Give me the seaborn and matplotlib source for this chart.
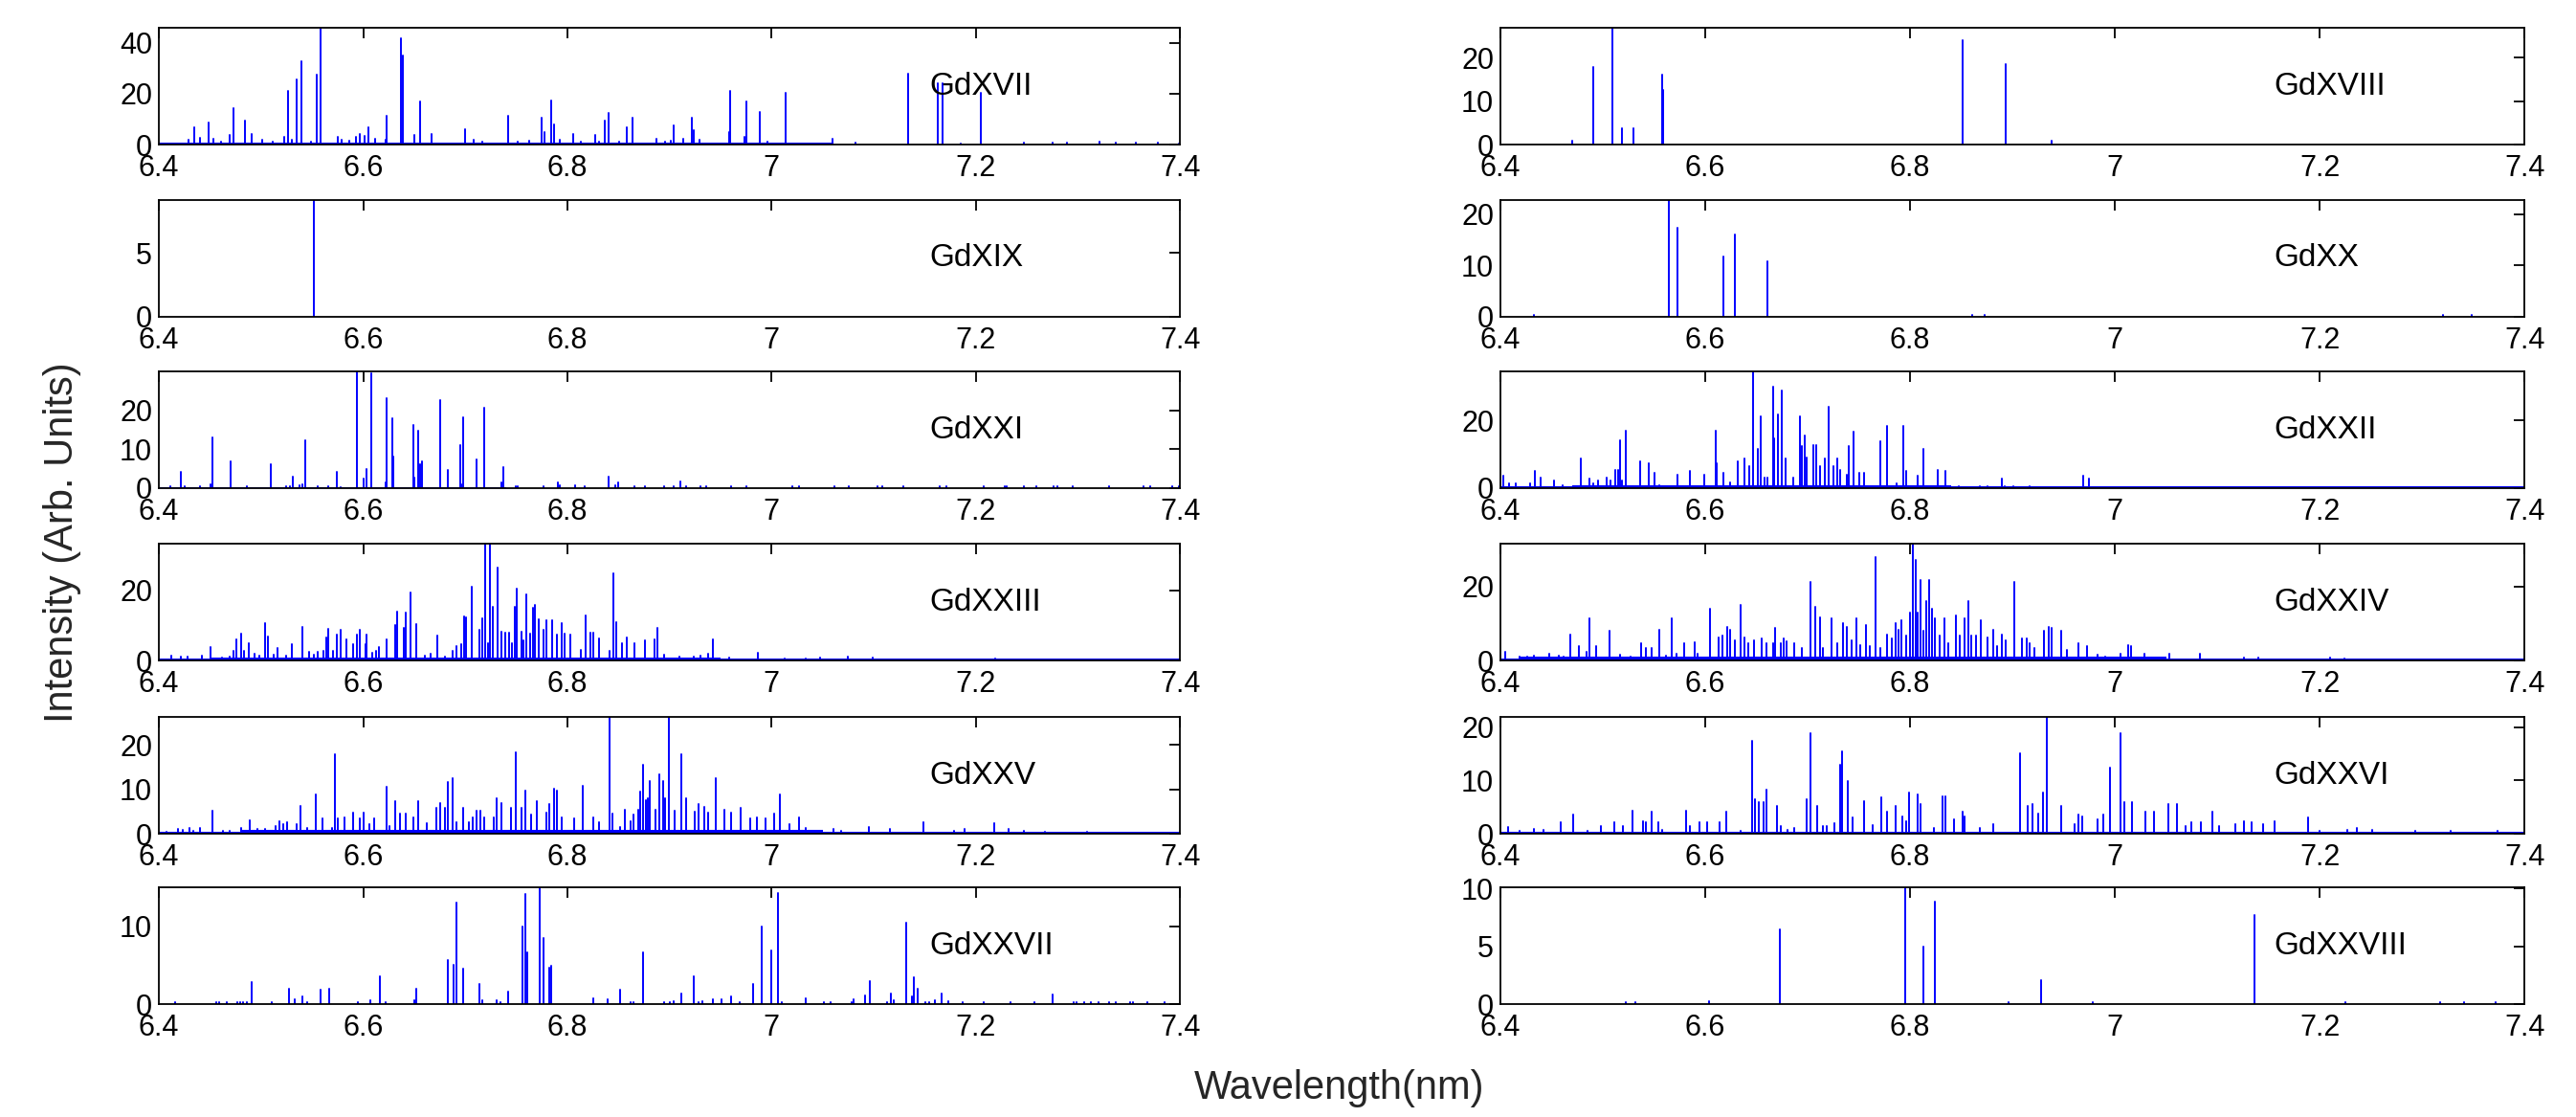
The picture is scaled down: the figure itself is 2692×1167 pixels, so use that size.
import numpy as np
import pandas as pd
import matplotlib
matplotlib.use("Agg")
import matplotlib.pyplot as plt
from matplotlib.ticker import FuncFormatter
import seaborn as sns

# ---- line lists: (wavelength nm, intensity arb. units) ----
gd17_lines = [(6.429,2.0),(6.435,6.8),(6.440,2.5),(6.449,8.8),(6.453,2.4),(6.461,1.0),(6.469,3.6),(6.473,14.3),
    (6.484,9.3),(6.491,4.3),(6.501,2.0),(6.511,1.0),(6.523,3.0),(6.526,21.0),(6.530,2.0),(6.535,25.5),(6.540,33.0),
    (6.549,1.0),(6.555,27.4),(6.558,46.0),(6.575,3.0),(6.579,2.0),(6.586,1.5),(6.593,3.0),(6.597,4.0),(6.601,3.5),
    (6.605,6.8),(6.612,2.4),(6.622,2.0),(6.623,11.3),(6.637,41.8),(6.639,34.9),(6.650,3.6),(6.656,16.8),(6.667,4.3),
    (6.700,6.1),(6.708,2.0),(6.717,1.0),(6.742,11.3),(6.751,1.0),(6.763,1.5),(6.775,10.5),(6.778,4.9),(6.784,17.4),
    (6.787,8.0),(6.793,2.0),(6.806,4.3),(6.813,1.0),(6.827,3.6),(6.831,1.0),(6.837,9.3),(6.840,12.4),(6.851,1.0),
    (6.858,6.8),(6.864,10.5),(6.887,2.4),(6.896,1.0),(6.901,1.5),(6.904,7.4),(6.913,2.4),(6.922,10.5),(6.924,5.5),
    (6.929,1.8),(6.958,4.9),(6.959,21.0),(6.973,3.0),(6.975,16.8),(6.988,13.0),(6.996,1.0),(7.014,20.5),(7.060,2.4),
    (7.082,0.6),(7.134,28.0),(7.163,24.3),(7.167,24.3),(7.185,0.5),(7.205,20.5),(7.247,0.6),(7.275,0.6),(7.289,0.6),
    (7.321,1.2),(7.337,0.7),(7.357,0.6),(7.378,0.6),(7.399,0.5)]

gd18_lines = [(6.470,0.9),(6.491,17.8),(6.509,26.8),(6.519,3.7),(6.530,3.7),(6.5575,16.0),(6.559,12.6),
    (6.851,23.9),(6.893,18.5),(6.938,0.9)]

gd19_lines = [(6.552,9.14)]

gd20_lines = [(6.433,0.3),(6.5645,22.8),(6.573,17.3),(6.618,11.8),(6.629,16.1),(6.661,10.9),(6.861,0.4),
    (6.873,0.4),(7.320,0.4),(7.348,0.4)]

gd21_lines = [(6.411,0.5),(6.421,4.2),(6.425,0.4),(6.440,0.5),(6.4506,1.0),(6.4527,13.1),(6.4706,7.0),(6.4864,0.5),
    (6.5098,6.2),(6.5243,0.5),(6.5284,0.5),(6.5312,3.0),(6.538,0.7),(6.5408,1.0),(6.5436,12.3),(6.5553,0.6),
    (6.5656,0.6),(6.5738,4.2),(6.578,0.3),(6.5938,30.0),(6.6000,2.5),(6.6028,5.0),(6.6076,29.4),(6.6220,1.4),
    (6.6234,23.1),(6.6282,17.9),(6.6296,8.2),(6.6489,16.3),(6.6503,2.6),(6.6537,14.7),(6.6558,6.2),(6.6572,7.0),
    (6.6757,22.7),(6.6833,4.6),(6.6950,11.0),(6.6964,1.0),(6.6978,18.3),(6.7109,7.4),(6.7184,20.7),(6.7350,1.4),
    (6.7370,5.4),(6.749,0.5),(6.751,0.5),(6.7763,0.6),(6.7907,1.4),(6.7928,0.7),(6.8076,0.8),(6.8168,0.4),
    (6.8403,3.0),(6.8465,0.8),(6.8493,1.4),(6.8657,0.4),(6.8760,0.4),(6.8947,0.4),(6.9043,0.4),(6.9105,1.8),
    (6.9167,0.4),(6.9306,0.5),(6.9361,0.5),(6.9600,0.4),(6.9752,0.4),(7.0200,0.4),(7.0269,0.4),(7.0613,0.4),
    (7.0751,0.4),(7.1040,0.4),(7.1081,0.4),(7.1288,0.4),(7.1646,0.4),(7.1715,0.4),(7.2080,0.4),(7.228,0.4),
    (7.230,0.4),(7.247,0.4),(7.259,0.4),(7.276,0.4),(7.280,0.4),(7.295,0.4),(7.330,0.4),(7.364,0.4),(7.371,0.4),
    (7.392,0.4),(7.399,0.4)]

gd22_lines = [(6.4028,3.7),(6.4084,1.4),(6.4153,1.4),(6.4293,1.4),(6.4335,5.1),(6.4390,3.2),(6.4523,2.3),
    (6.4606,0.9),(6.4781,8.8),(6.4864,2.8),(6.4906,1.4),(6.4955,2.3),(6.5032,3.2),(6.5073,2.3),(6.5122,5.5),
    (6.5150,5.5),(6.5171,14.3),(6.5185,2.3),(6.5227,17.1),(6.5359,7.8),(6.5450,7.4),(6.5506,4.6),(6.5554,0.9),
    (6.5729,4.1),(6.5854,5.1),(6.5986,4.1),(6.6098,17.1),(6.6112,7.4),(6.6175,4.6),(6.6244,1.8),(6.6314,7.8),
    (6.6384,8.8),(6.6426,6.5),(6.6467,34.6),(6.6509,11.5),(6.6544,21.2),(6.6579,3.2),(6.6607,3.2),(6.6663,30.0),
    (6.6676,14.7),(6.6711,21.7),(6.6746,28.8),(6.6781,8.8),(6.6857,3.2),(6.6920,21.2),(6.6941,12.4),(6.6969,15.7),
    (6.6990,9.2),(6.7053,12.7),(6.7081,12.9),(6.7123,6.5),(6.7171,8.8),(6.7206,24.0),(6.7248,6.5),(6.7290,8.8),
    (6.7318,5.5),(6.7380,4.1),(6.7401,12.4),(6.7450,16.6),(6.7499,4.6),(6.7554,4.6),(6.7708,13.8),(6.7778,18.4),
    (6.7868,1.4),(6.7938,18.4),(6.7959,5.1),(6.8078,3.7),(6.8126,11.5),(6.8266,5.5),(6.8349,5.1),(6.8474,0.5),
    (6.8683,0.5),(6.8753,0.7),(6.8893,2.8),(6.8927,0.7),(6.9011,0.5),(6.9171,0.7),(6.9310,0.4),(6.9694,3.7),
    (6.9743,2.8)]

gd23_lines = [(6.412,1.5),(6.421,1.2),(6.428,1.0),(6.4417,1.5),(6.4506,3.9),(6.462,0.8),(6.469,1.0),(6.4733,2.8),
    (6.476,5.9),(6.4802,7.7),(6.4837,2.8),(6.4878,5.0),(6.4940,1.9),(6.4981,1.5),(6.5036,10.5),(6.5064,6.8),
    (6.5119,1.7),(6.516,3.5),(6.5243,1.5),(6.5298,4.6),(6.5401,9.6),(6.5470,2.4),(6.5518,1.7),(6.5559,2.4),
    (6.5608,2.8),(6.5642,6.5),(6.5656,9.0),(6.5704,2.8),(6.5738,7.3),(6.578,8.6),(6.5835,5.9),(6.5904,4.6),
    (6.5938,7.3),(6.5966,8.6),(6.602,4.6),(6.6035,7.4),(6.6090,2.1),(6.6124,2.8),(6.6151,3.9),(6.6227,6.1),
    (6.631,10.1),(6.6331,13.9),(6.6399,9.2),(6.6413,13.5),(6.6468,19.4),(6.6517,10.4),(6.6606,1.5),(6.6661,1.9),
    (6.6730,7.0),(6.6799,1.1),(6.6875,2.8),(6.6909,4.2),(6.6964,4.6),(6.6991,12.6),(6.7005,12.3),(6.706,21.0),
    (6.7136,8.6),(6.7164,12.1),(6.7191,33.2),(6.7219,5.0),(6.7239,33.2),(6.7267,15.2),(6.7315,26.5),(6.7350,8.1),
    (6.7391,7.9),(6.7425,7.9),(6.7460,5.0),(6.7487,15.2),(6.7508,20.3),(6.7549,8.1),(6.7570,5.7),(6.7597,18.9),
    (6.7639,7.7),(6.7666,15.0),(6.768,15.8),(6.7721,11.7),(6.7770,8.6),(6.779,11.4),(6.7852,11.4),(6.7900,7.3),
    (6.7948,10.5),(6.7976,7.7),(6.8031,7.3),(6.8134,3.0),(6.8175,12.7),(6.8223,7.9),(6.8258,7.9),(6.8313,6.4),
    (6.8410,2.8),(6.8451,24.7),(6.8479,11.0),(6.8534,5.0),(6.8582,6.5),(6.8658,4.8),(6.8761,5.7),(6.8857,6.1),
    (6.8885,9.2),(6.8947,1.7),(6.9099,1.1),(6.9237,1.1),(6.9306,1.5),(6.9374,1.9),(6.9429,6.1),(6.9580,0.8),
    (6.9869,2.1),(7.0131,0.6),(7.0337,0.6),(7.0475,0.8),(7.075,1.0),(7.0991,0.8),(7.1640,0.3),(7.2190,0.5),
    (7.2500,0.3),(7.3100,0.3),(7.3600,0.3)]

gd24_lines = [(6.4042,2.4),(6.4188,1.0),(6.4258,1.0),(6.4328,1.2),(6.4474,1.9),(6.4572,1.2),(6.4614,1.1),
    (6.4683,7.1),(6.4767,3.8),(6.4836,2.4),(6.4871,11.3),(6.4934,3.8),(6.5066,8.0),(6.5164,1.5),(6.5268,1.0),
    (6.5373,4.6),(6.5422,3.4),(6.5477,3.4),(6.5554,8.4),(6.5617,1.3),(6.5673,11.3),(6.5722,1.9),(6.5791,4.6),
    (6.5896,5.0),(6.5924,1.7),(6.6049,13.9),(6.6126,6.3),(6.6168,6.7),(6.6210,9.2),(6.6244,8.4),(6.6286,5.5),
    (6.6349,15.1),(6.6384,6.3),(6.6418,4.6),(6.6474,5.5),(6.6551,5.9),(6.6593,4.6),(6.6662,4.6),(6.6683,8.8),
    (6.6739,4.6),(6.6767,5.9),(6.6795,5.3),(6.6871,4.6),(6.6941,3.4),(6.7025,21.3),(6.7074,14.5),(6.7116,11.6),
    (6.7150,3.4),(6.7234,11.3),(6.7290,4.6),(6.7346,10.1),(6.7380,9.2),(6.7429,5.5),(6.7471,11.3),(6.7513,4.2),
    (6.7568,9.5),(6.7610,3.8),(6.7659,28.0),(6.7708,3.4),(6.7778,7.0),(6.7826,5.9),(6.7861,10.1),(6.7889,8.4),
    (6.7917,10.9),(6.7959,6.7),(6.8001,13.0),(6.8029,31.6),(6.8057,27.1),(6.8078,13.0),(6.8099,21.8),(6.8126,8.0),
    (6.8154,16.0),(6.8189,21.8),(6.8217,13.9),(6.8245,11.3),(6.8286,6.7),(6.8335,11.3),(6.8377,4.6),(6.8447,12.2),
    (6.8488,6.7),(6.8531,11.3),(6.8565,16.0),(6.8593,6.7),(6.8642,6.7),(6.8691,10.9),(6.8753,6.3),(6.8809,8.4),
    (6.8851,3.8),(6.8893,7.1),(6.8934,5.5),(6.9018,21.3),(6.9088,5.9),(6.9137,5.9),(6.9171,4.6),(6.9213,3.4),
    (6.9304,8.0),(6.9353,9.2),(6.9380,8.8),(6.9478,8.0),(6.9534,2.8),(6.9646,4.6),(6.9729,3.8),(6.9833,1.5),
    (6.9903,1.1),(7.0057,1.9),(7.0134,4.2),(7.0162,4.0),(7.0288,1.7),(7.0531,1.9),(7.0831,1.7),(7.1263,0.7),
    (7.1402,0.7),(7.2099,0.7),(7.2238,0.5),(7.2935,0.3),(7.3144,0.3),(7.3632,0.3)]

gd25_lines = [(6.4072,0.5),(6.4183,1.0),(6.4238,0.8),(6.430,1.4),(6.4334,0.7),(6.4403,1.2),(6.4527,5.2),
    (6.4623,0.7),(6.4692,0.7),(6.4802,1.2),(6.4892,3.1),(6.4968,1.0),(6.5037,1.0),(6.514,1.7),(6.5181,2.9),
    (6.5222,2.1),(6.5257,2.6),(6.5346,2.1),(6.5388,6.2),(6.5450,1.4),(6.5539,8.8),(6.5601,3.4),(6.5697,1.4),
    (6.5725,18.0),(6.5752,3.4),(6.5814,3.6),(6.5897,4.8),(6.5966,3.4),(6.6000,4.8),(6.6062,2.1),(6.6110,3.4),
    (6.6234,10.6),(6.6262,1.8),(6.6317,7.4),(6.6358,4.6),(6.6420,4.6),(6.6496,3.6),(6.6537,7.4),(6.6620,2.3),
    (6.6716,5.9),(6.675,6.9),(6.6799,5.9),(6.6826,11.6),(6.6874,12.6),(6.6916,2.6),(6.6978,5.9),(6.7033,2.6),
    (6.7074,3.7),(6.7109,5.1),(6.7150,5.1),(6.7184,3.6),(6.7281,3.7),(6.7308,8.0),(6.7350,6.9),(6.7446,5.9),
    (6.7494,18.4),(6.7549,5.9),(6.7584,9.8),(6.7646,4.3),(6.7701,7.3),(6.7790,4.8),(6.7825,6.8),(6.7866,10.1),
    (6.7893,9.8),(6.7948,3.7),(6.8065,3.4),(6.8153,10.9),(6.8258,3.6),(6.8313,2.6),(6.8409,26.3),(6.8444,4.6),
    (6.8513,1.6),(6.8561,5.5),(6.8617,2.9),(6.8651,4.4),(6.8692,5.5),(6.8713,9.4),(6.8741,15.5),(6.8768,7.6),
    (6.8789,8.0),(6.8809,11.9),(6.8864,5.4),(6.8899,13.4),(6.8933,11.8),(6.8954,8.0),(6.8995,26.3),(6.9050,5.1),
    (6.9112,18.0),(6.9167,8.0),(6.9250,5.0),(6.9284,6.8),(6.9339,6.1),(6.9381,4.8),(6.9457,12.6),(6.9539,5.5),
    (6.9601,4.8),(6.9697,5.9),(6.9787,3.4),(6.9855,3.6),(6.9945,3.4),(7.0021,4.6),(7.0083,8.8),(7.0179,2.1),
    (7.0269,3.7),(7.0337,1.4),(7.061,1.0),(7.0682,0.7),(7.0957,1.6),(7.1163,1.1),(7.1487,2.7),(7.1783,0.7),
    (7.1886,1.1),(7.2183,2.4),(7.2320,1.0),(7.2472,0.6),(7.2678,0.5),(7.3091,0.5)]

gd26_lines = [(6.407,1.2),(6.4188,0.6),(6.4328,0.9),(6.4418,0.7),(6.4592,2.1),(6.4711,3.6),(6.4850,0.5),
    (6.4976,1.5),(6.5108,2.1),(6.5199,1.5),(6.5289,4.4),(6.5394,2.4),(6.5422,2.1),(6.5478,4.1),(6.5540,2.1),
    (6.5582,0.8),(6.5812,4.4),(6.5847,1.5),(6.5944,2.1),(6.6021,2.1),(6.6140,2.1),(6.6203,4.1),(6.6349,0.6),
    (6.6453,17.5),(6.6488,6.5),(6.6523,5.9),(6.6565,5.9),(6.6593,8.3),(6.6704,5.3),(6.6739,1.5),(6.6802,0.8),
    (6.6871,1.0),(6.6990,6.5),(6.7025,18.9),(6.7088,5.3),(6.7150,1.5),(6.7185,1.5),(6.7262,2.0),(6.7318,13.0),
    (6.7339,15.4),(6.7394,9.8),(6.7436,3.0),(6.7548,6.2),(6.7638,1.6),(6.7715,6.8),(6.7778,4.1),(6.7861,5.3),
    (6.7924,3.3),(6.7959,2.4),(6.7994,7.7),(6.8078,7.4),(6.8099,5.6),(6.8231,1.0),(6.8321,7.1),(6.8349,7.1),
    (6.8433,2.7),(6.8509,4.1),(6.8530,3.3),(6.8684,1.0),(6.8809,1.8),(6.9074,15.1),(6.9144,5.3),(6.9199,5.6),
    (6.9255,3.8),(6.9297,7.7),(6.9332,21.9),(6.9471,5.3),(6.9603,1.8),(6.9646,3.6),(6.9680,3.3),(6.9834,2.7),
    (6.9883,3.6),(6.9952,12.4),(7.0057,18.9),(7.0092,5.9),(7.0168,5.9),(7.0301,4.1),(7.0378,4.1),(7.0524,5.6),
    (7.0608,5.6),(7.0691,1.5),(7.0747,2.1),(7.0844,2.1),(7.0949,4.1),(7.1019,1.5),(7.1179,1.8),(7.1263,2.4),
    (7.1333,2.1),(7.1451,1.8),(7.1562,2.4),(7.1890,3.0),(7.1994,0.6),(7.2273,0.7),(7.2364,1.1),(7.2517,0.7),
    (7.2935,0.5),(7.3283,0.5),(7.3736,0.5)]

gd27_lines = [(6.416,0.3),(6.4559,0.3),(6.4594,0.3),(6.4662,0.3),(6.4766,0.3),(6.4800,0.3),(6.4821,0.3),
    (6.4862,0.3),(6.4905,2.8),(6.5103,0.3),(6.5278,2.0),(6.5333,0.6),(6.5408,1.0),(6.5449,0.3),(6.5587,1.8),
    (6.5663,2.0),(6.5952,0.3),(6.6069,0.5),(6.6165,3.6),(6.6220,0.2),(6.6502,0.5),(6.6517,2.0),(6.6826,5.7),
    (6.6881,5.1),(6.6916,13.0),(6.6978,4.5),(6.7136,2.6),(6.7164,0.5),(6.7308,0.5),(6.7343,0.3),(6.7418,1.6),
    (6.7556,10.0),(6.7584,14.2),(6.7604,6.7),(6.7728,15.0),(6.7763,8.5),(6.7824,4.7),(6.7845,4.9),(6.8258,0.8),
    (6.8396,0.6),(6.8513,1.8),(6.8617,0.2),(6.8651,0.2),(6.8740,6.7),(6.8947,0.3),(6.9002,0.3),(6.9043,0.4),
    (6.9118,1.4),(6.9236,3.6),(6.9284,0.2),(6.9325,0.4),(6.9429,0.6),(6.9512,0.6),(6.9600,1.0),(6.9683,0.2),
    (6.9821,2.6),(6.9903,10.0),(7.0000,6.9),(7.0062,14.3),(7.0096,0.2),(7.0337,0.7),(7.0509,0.2),(7.0578,0.2),
    (7.0785,0.3),(7.0806,0.6),(7.0916,1.1),(7.0965,3.0),(7.1130,0.2),(7.1170,1.4),(7.1198,0.5),(7.1322,10.5),
    (7.1370,1.0),(7.1392,3.4),(7.1426,2.0),(7.1509,0.3),(7.1543,0.3),(7.1598,0.5),(7.1660,1.4),(7.1729,0.4),
    (7.1873,0.2),(7.2073,0.2),(7.2335,0.2),(7.2576,0.2),(7.2748,1.2),(7.2955,0.2),(7.2990,0.2),(7.3059,0.2),
    (7.3128,0.2),(7.3197,0.2),(7.3300,0.2),(7.3369,0.2),(7.3507,0.2),(7.3541,0.2),(7.3679,0.2),(7.3851,0.2)]

gd28_lines = [(6.522,0.15),(6.532,0.15),(6.6035,0.25),(6.6725,6.5),(6.7952,10.1),(6.8133,5.0),(6.8245,8.9),
    (6.8963,0.15),(6.9283,2.1),(6.9785,0.15),(7.1367,7.7),(7.2253,0.15),(7.318,0.15),(7.341,0.15),(7.372,0.15)]

# unresolved weak-line continuum: (start nm, end nm, intensity)
gd17_weak = [(6.40, 7.06, 0.7)]
gd21_weak = [(6.40, 6.74, 0.35)]
gd22_weak = [(6.40, 7.40, 0.5), (6.47, 6.84, 0.9)]
gd23_weak = [(6.40, 7.40, 0.45), (6.45, 6.95, 0.9)]
gd24_weak = [(6.40, 7.40, 0.5), (6.42, 7.05, 1.0)]
gd25_weak = [(6.40, 7.40, 0.45), (6.48, 7.05, 0.8)]
gd26_weak = [(6.40, 7.40, 0.35)]

ion_names = ["GdXVII", "GdXVIII", "GdXIX", "GdXX", "GdXXI", "GdXXII",
             "GdXXIII", "GdXXIV", "GdXXV", "GdXXVI", "GdXXVII", "GdXXVIII"]
ion_lines = [gd17_lines, gd18_lines, gd19_lines, gd20_lines, gd21_lines, gd22_lines,
             gd23_lines, gd24_lines, gd25_lines, gd26_lines, gd27_lines, gd28_lines]
ion_weak = [gd17_weak, [], [], [], gd21_weak, gd22_weak,
            gd23_weak, gd24_weak, gd25_weak, gd26_weak, [], []]
ion_yticks = [[0, 20, 40], [0, 10, 20], [0, 5], [0, 10, 20], [0, 10, 20], [0, 20],
              [0, 20], [0, 20], [0, 10, 20], [0, 10, 20], [0, 10], [0, 5, 10]]
wl_ticks = [6.4, 6.6, 6.8, 7.0, 7.2, 7.4]

# ---- style ----
sns.set_theme(style="white")
plt.rcParams["font.family"] = ["Liberation Sans", "DejaVu Sans"]
BLUE = "#0000ff"

fig = plt.figure(figsize=(26.92, 11.67), dpi=100)

col_x = [0.0617, 0.5825]
col_w = [0.3964, 0.3975]
row_y = [0.8706, 0.7164, 0.5630, 0.4087, 0.2536, 0.1011]
row_h = 0.1045


def stick_frame(lines):
    wl = np.array([w for w, _ in lines])
    inten = np.array([i for _, i in lines])
    n = len(wl)
    return pd.DataFrame({
        "wl": np.repeat(wl, 2),
        "I": np.column_stack([np.zeros(n), inten]).ravel(),
        "line": np.repeat(np.arange(n), 2),
    })


for k, name in enumerate(ion_names):
    row, col = divmod(k, 2)
    ax = fig.add_axes([col_x[col], row_y[row], col_w[col], row_h])
    lines = ion_lines[k]
    ymax = max(i for _, i in lines)

    for a, b, h in ion_weak[k]:
        ax.fill_between([a, b], 0, h, color=BLUE, linewidth=0)

    sns.lineplot(data=stick_frame(lines), x="wl", y="I", units="line", estimator=None,
                 sort=False, color=BLUE, linewidth=1.4, ax=ax, legend=False)

    ax.set_xlim(6.4, 7.4)
    ax.set_ylim(0, ymax)
    ax.set_xticks(wl_ticks)
    ax.set_yticks(ion_yticks[k])
    ax.xaxis.set_major_formatter(FuncFormatter(lambda v, p: f"{v:g}"))
    ax.set_xlabel("")
    ax.set_ylabel("")
    ax.tick_params(direction="in", top=True, right=True, length=8, width=1.3,
                   labelsize=22, colors="black")
    ax.tick_params(axis="x", pad=7)
    ax.tick_params(axis="y", pad=5)
    for sp in ax.spines.values():
        sp.set_color("black")
        sp.set_linewidth(1.3)
    ax.text(0.755, 0.5, name, transform=ax.transAxes, fontsize=24,
            ha="left", va="center", color="black")

fig.text(0.024, 0.514, "Intensity (Arb. Units)", rotation=90, fontsize=30,
         ha="center", va="center")
fig.text(0.52, 0.026, "Wavelength(nm)", fontsize=30, ha="center", va="center")

fig.savefig("out.png", dpi=100)
